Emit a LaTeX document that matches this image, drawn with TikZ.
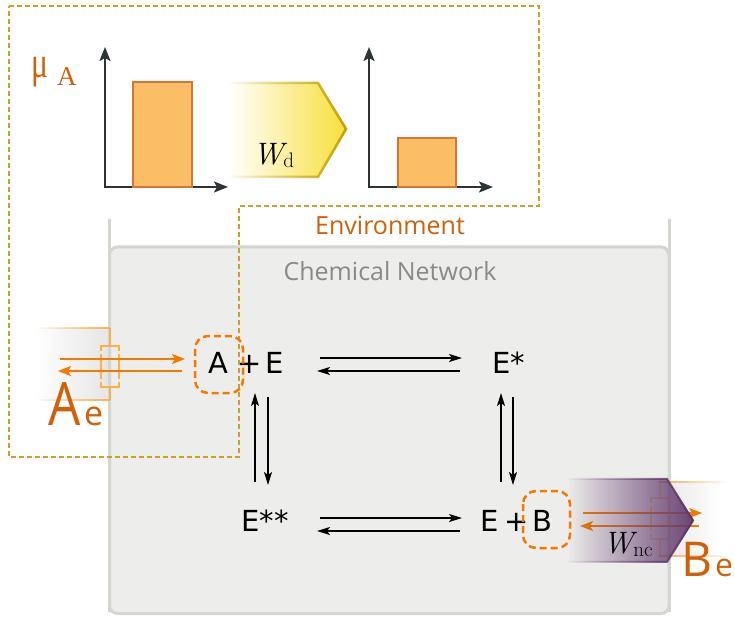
\documentclass[tikz,border=0pt]{standalone}
\usepackage{fontspec}
\usetikzlibrary{arrows.meta,fadings}
\newfontfamily\osans{Open Sans}
\newfontfamily\dvs{DejaVu Sans}
\newfontfamily\lser{Liberation Serif}
\definecolor{gold}{HTML}{C9A227}
\definecolor{otext}{HTML}{D0600A}
\definecolor{orng}{HTML}{F57900}
\definecolor{lorng}{HTML}{FCB04A}
\definecolor{plum}{HTML}{5C3566}
\definecolor{plumfill}{HTML}{623A6E}
\definecolor{axiscol}{HTML}{2E3436}
\definecolor{alu}{HTML}{D3D7CF}
\definecolor{boxfill}{HTML}{EDEDEB}
\definecolor{nettext}{HTML}{888A85}
\definecolor{barfill}{HTML}{FBBD65}
\definecolor{barline}{HTML}{D97530}
\definecolor{yel}{HTML}{F8E03A}
\definecolor{ygold}{HTML}{C4A000}
\begin{document}
\begin{tikzpicture}[x=1pt,y=-1pt,
  sp/.style={font=\dvs\fontsize{29}{29}\selectfont, inner sep=0pt, anchor=base west},
  lbl/.style={inner sep=0pt, text=otext},
  rxn/.style={line width=1.5pt, -{Stealth[length=13pt,width=8pt,inset=3pt]}},
  oarr/.style={draw=orng, line width=1.8pt, -{Stealth[length=13pt,width=10pt,inset=3pt]}},
  axisline/.style={draw=axiscol, line width=2pt, {Stealth[length=14pt,width=11pt,inset=3pt]}-{Stealth[length=14pt,width=11pt,inset=3pt]}},
  bar/.style={draw=barline, fill=barfill, line width=1.5pt},
  dbox/.style={draw=orng, line width=2.5pt, dash pattern=on 7pt off 4pt, rounded corners=13pt},
  conn/.style={draw=lorng, line width=1.8pt},
]
\useasboundingbox (0,0) rectangle (735,617);
\fill[white] (0,0) rectangle (735,617);

% gray gradients of the reservoirs
\shade[left color=white, right color=black!10] (35,328) rectangle (109.5,400);
\shade[left color=black!8, right color=white] (669,482) rectangle (722,556);

% container and chemical network box
\draw[alu, line width=3pt] (109.5,219) -- (109.5,612);
\draw[alu, line width=3pt] (669,219) -- (669,612);
\draw[alu, line width=3pt, fill=boxfill, rounded corners=8pt] (109.5,247) rectangle (669,613.5);

% environment dashed outline
\draw[gold, line width=1.3pt, dash pattern=on 5pt off 3pt]
  (9,6) -- (539,6) -- (539,206) -- (239,206) -- (239,457) -- (9,457) -- cycle;

% graphs
\draw[axisline] (105,47) -- (105,187) -- (228,187);
\draw[bar] (133,82) rectangle (192,187);
\draw[axisline] (369,47) -- (369,187) -- (493,187);
\draw[bar] (398,138) rectangle (456,187);

% yellow work arrow
\shade[left color=white, right color=yel] (228,83) -- (318,83) -- (346,129) -- (318,177) -- (228,177) -- cycle;
\draw[ygold, line width=2.5pt, path fading=west] (228,83) -- (318,83) -- (346,129) -- (318,177) -- (228,177);
\node[inner sep=0pt, anchor=base west] (Wd) at (253,165)
  {\fontsize{31}{31}\selectfont\itshape W\upshape\fontsize{21}{21}\selectfont\raisebox{-3pt}{d}};

% labels
\node[lbl, anchor=base west, font=\lser\fontsize{44}{44}\selectfont] (mu) at (31,78) {\scalebox{0.72}[1]{μ}};
\node[lbl, anchor=base west, font=\lser\fontsize{27}{27}\selectfont] (muA) at (57,86) {A};
\node[lbl, anchor=base, font=\osans\fontsize{25}{25}\selectfont] (env) at (390,235) {Environment};
\node[inner sep=0pt, anchor=base, text=nettext, font=\osans\fontsize{25}{25}\selectfont] (net) at (390,280) {Chemical Network};

% reservoir A connector
\fill[lorng, path fading=west] (35,327) rectangle (110.4,329.3);
\fill[lorng, path fading=west] (35,399) rectangle (110.4,401.3);
\draw[conn] (110,328) -- (110,346);
\draw[conn] (110,387) -- (110,400);
\draw[conn] (101,351) -- (101,346) -- (119,346) -- (119,351);
\draw[conn] (101,354) -- (101,379);
\draw[conn] (119,354) -- (119,379);
\draw[conn] (101,382) -- (101,387) -- (119,387) -- (119,382);

% reservoir B connector
\fill[lorng, path fading=east] (659.1,481) rectangle (728,483.3);
\fill[lorng, path fading=east] (659.1,555) rectangle (728,557.3);
\begin{scope}[opacity=0.5]
\draw[conn] (660,482) -- (660,498);
\draw[conn] (660,539) -- (660,556);
\draw[conn] (651,503) -- (651,498) -- (669,498) -- (669,503);
\draw[conn] (651,506) -- (651,531);
\draw[conn] (669,506) -- (669,531);
\draw[conn] (651,534) -- (651,539) -- (669,539) -- (669,534);
\end{scope}

% exchange arrows
\coordinate (a1) at (60,359);  \coordinate (a2) at (185,359);
\coordinate (a3) at (182,371); \coordinate (a4) at (58,371);
\coordinate (b1) at (583,513); \coordinate (b2) at (702,513);
\coordinate (b3) at (699,526); \coordinate (b4) at (580,526);
\draw[oarr] (a1) -- (a2);
\draw[oarr] (a3) -- (a4);
\draw[oarr, line width=1.5pt] (b1) -- (b2);
\draw[oarr, line width=1.5pt] (b3) -- (b4);

% species
\node[sp] (A) at (208,373) {A};
\node[sp] (plA) at (237,373) {+};
\node[sp] (E1) at (265,373) {E};
\node[sp] (E2) at (492,373) {E*};
\node[sp] (E3) at (241,531) {E**};
\node[sp] (E4) at (480,531) {E};
\node[sp] (plB) at (504,531) {+};
\node[sp] (B) at (532,531) {B};

% reaction arrows
\coordinate (t1) at (320,358); \coordinate (t2) at (462,358);
\coordinate (t3) at (460,371); \coordinate (t4) at (317,371);
\coordinate (u1) at (320,518); \coordinate (u2) at (462,518);
\coordinate (u3) at (460,531); \coordinate (u4) at (317,531);
\coordinate (l1) at (255,482); \coordinate (l2) at (255,393);
\coordinate (l3) at (268,397); \coordinate (l4) at (268,485);
\coordinate (r1) at (501,482); \coordinate (r2) at (501,393);
\coordinate (r3) at (513,397); \coordinate (r4) at (513,485);
\draw[rxn] (t1) -- (t2); \draw[rxn] (t3) -- (t4);
\draw[rxn] (u1) -- (u2); \draw[rxn] (u3) -- (u4);
\draw[rxn] (l1) -- (l2); \draw[rxn] (l3) -- (l4);
\draw[rxn] (r1) -- (r2); \draw[rxn] (r3) -- (r4);

% purple work arrow
\fill[plumfill, fill opacity=0.95, path fading=west] (567,479) -- (667,479) -- (693,520.5) -- (667,562) -- (567,562) -- cycle;
\draw[plum, line width=2pt, path fading=west] (567,479) -- (667,479) -- (693,520.5) -- (667,562) -- (567,562);
\node[inner sep=0pt, anchor=base west] (Wnc) at (603,553)
  {\fontsize{31}{31}\selectfont\itshape W\upshape\fontsize{21}{21}\selectfont\raisebox{-3pt}{nc}};

% dashed selections
\draw[dbox] (195,336) rectangle (243,393);
\draw[dbox] (523,491) rectangle (570,548);

% reservoir labels
\node[lbl, anchor=base west, font=\osans\fontsize{60}{60}\selectfont] (AeA) at (48,425) {\scalebox{0.85}[1]{A}};
\node[lbl, anchor=base west, font=\osans\fontsize{34}{34}\selectfont] (Aee) at (84,425) {e};
\node[lbl, anchor=base west, font=\osans\fontsize{48}{48}\selectfont] (BeB) at (681,576) {B};
\node[lbl, anchor=base west, font=\osans\fontsize{32}{32}\selectfont] (Bee) at (715,576) {e};
\end{tikzpicture}
\end{document}
